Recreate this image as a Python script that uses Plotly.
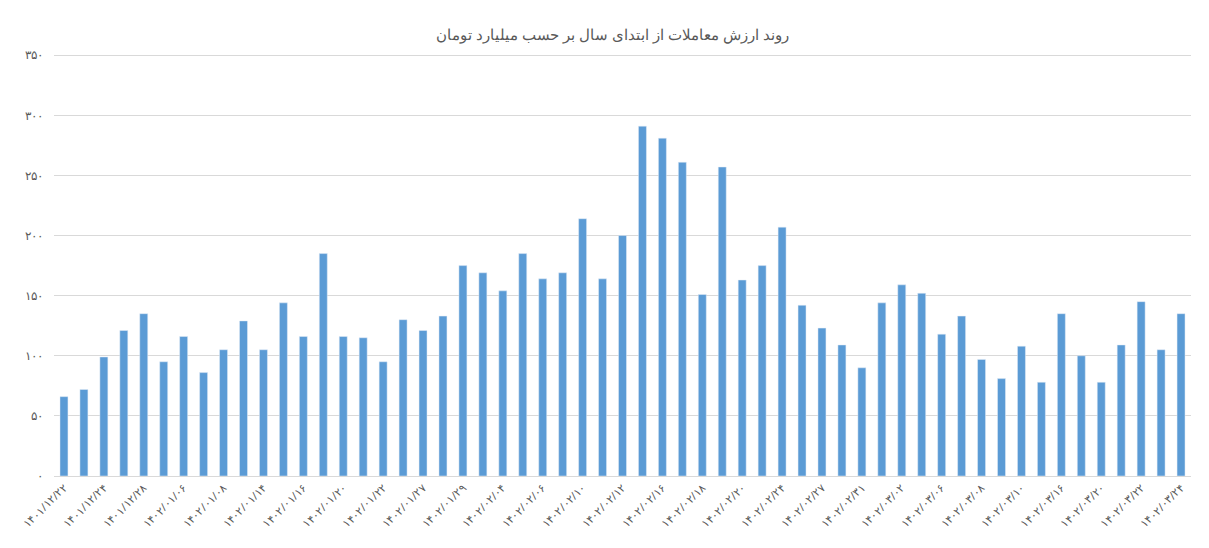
import plotly.graph_objects as go

FA = str.maketrans("0123456789", "۰۱۲۳۴۵۶۷۸۹")

dates = [
    "1401/12/22", "1401/12/23", "1401/12/24", "1401/12/27", "1401/12/28", "1402/01/05",
    "1402/01/06", "1402/01/07", "1402/01/08", "1402/01/09", "1402/01/14", "1402/01/15",
    "1402/01/16", "1402/01/19", "1402/01/20", "1402/01/21", "1402/01/22", "1402/01/26",
    "1402/01/27", "1402/01/28", "1402/01/29", "1402/02/02", "1402/02/04", "1402/02/05",
    "1402/02/06", "1402/02/09", "1402/02/10", "1402/02/11", "1402/02/12", "1402/02/13",
    "1402/02/16", "1402/02/17", "1402/02/18", "1402/02/19", "1402/02/20", "1402/02/23",
    "1402/02/24", "1402/02/25", "1402/02/27", "1402/02/30", "1402/02/31", "1402/03/01",
    "1402/03/02", "1402/03/03", "1402/03/06", "1402/03/07", "1402/03/08", "1402/03/09",
    "1402/03/10", "1402/03/13", "1402/03/16", "1402/03/17", "1402/03/20", "1402/03/21",
    "1402/03/22", "1402/03/23", "1402/03/24",
]
values = [
    66, 72, 99, 121, 135, 95, 116, 86, 105, 129, 105, 144, 116, 185, 116, 115, 95, 130,
    121, 133, 175, 169, 154, 185, 164, 169, 214, 164, 200, 291, 281, 261, 151, 257, 163,
    175, 207, 142, 123, 109, 90, 144, 159, 152, 118, 133, 97, 81, 108, 78, 135, 100, 78,
    109, 145, 105, 135,
]
y_ticks = [0, 50, 100, 150, 200, 250, 300, 350]

cats = [d.translate(FA) for d in dates]

fig = go.Figure(go.Bar(x=cats, y=values, marker_color="#5B9BD5", width=0.4))

fig.update_layout(
    title=dict(text="روند ارزش معاملات از ابتدای سال بر حسب میلیارد تومان", x=0.5, y=0.96,
               font=dict(size=15, color="#595959", family="Noto Sans")),
    width=1209, height=548,
    margin=dict(l=28, r=26, t=46, b=80),
    plot_bgcolor="white", paper_bgcolor="white",
    showlegend=False,
    font=dict(family="Noto Sans", color="#595959"),
)
fig.update_xaxes(tickmode="array", tickvals=cats[::2], ticktext=cats[::2], tickangle=-45,
                 tickfont=dict(size=11), showgrid=False,
                 showline=True, linecolor="#D9D9D9")
fig.update_yaxes(range=[0, 351], tickvals=y_ticks,
                 ticktext=[str(v).translate(FA) for v in y_ticks],
                 tickfont=dict(size=12), gridcolor="#D9D9D9", zeroline=False, ticklen=8,
                 ticks="outside", tickcolor="white")

fig.write_html("out.html")
